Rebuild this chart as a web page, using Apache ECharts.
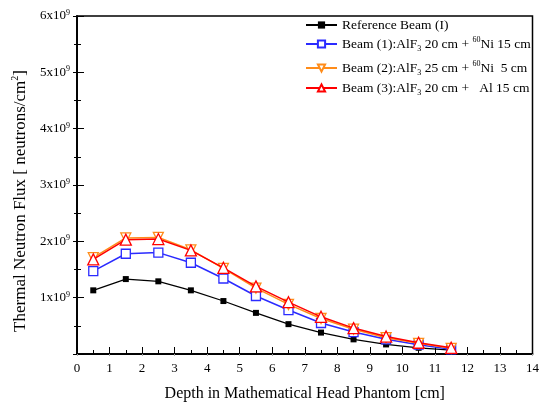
<!DOCTYPE html>
<html>
<head>
<meta charset="utf-8">
<script src="https://cdn.jsdelivr.net/npm/echarts@6/dist/echarts.min.js"></script>
<style>
  html, body { margin: 0; padding: 0; background: #fff; }
  #chart { width: 542px; height: 410px; }
</style>
</head>
<body>
<div id="chart"></div>
<script>
// depth in head phantom [cm]
const depth = [0.5, 1.5, 2.5, 3.5, 4.5, 5.5, 6.5, 7.5, 8.5, 9.5, 10.5, 11.5];

// thermal neutron flux, in units of 1e9 neutrons/cm^2
const refBeam = [1.13, 1.33, 1.29, 1.13, 0.94, 0.73, 0.53, 0.38, 0.26, 0.17, 0.11, 0.07];
const beam1   = [1.47, 1.78, 1.80, 1.62, 1.34, 1.03, 0.78, 0.55, 0.39, 0.26, 0.165, 0.083];
const beam2   = [1.71, 2.06, 2.07, 1.85, 1.52, 1.17, 0.88, 0.63, 0.44, 0.29, 0.19, 0.10];
const beam3   = [1.68, 2.03, 2.04, 1.84, 1.53, 1.20, 0.92, 0.66, 0.46, 0.31, 0.20, 0.11];

// legend labels (rich text: sub / sup)
const legendText = {
  ref: "Reference Beam (I)",
  b1: "Beam (1):AlF{sub|3} 20 cm + {sup|60}Ni 15 cm",
  b2: "Beam (2):AlF{sub|3} 25 cm + {sup|60}Ni  5 cm",
  b3: "Beam (3):AlF{sub|3} 20 cm +   Al 15 cm"
};

const FONT = "'Liberation Serif', 'Times New Roman', serif";
const chart = echarts.init(document.getElementById("chart"), null, { renderer: "canvas" });

const toPairs = (arr) => depth.map((d, i) => [d, arr[i] * 1e9]);

const RICH = {
  sub: { fontFamily: FONT, fontSize: 8, color: "#000", padding: [9, 0, 0, 0] },
  sup: { fontFamily: FONT, fontSize: 8, color: "#000", padding: [0, 0, 8, 0] }
};

function legendAt(name, top) {
  return {
    data: [name],
    left: 300,
    top: top,
    orient: "vertical",
    itemWidth: 31,
    itemHeight: 9,
    itemGap: 0,
    selectedMode: false,
    formatter: (n) => legendText[n],
    textStyle: { fontFamily: FONT, fontSize: 13.5, color: "#000", rich: RICH }
  };
}

const axisCommon = {
  axisLine: { show: true, lineStyle: { color: "#000", width: 1.5 } },
  splitLine: { show: false }
};

const option = {
  animation: false,
  backgroundColor: "#fff",
  grid: {
    left: 77, right: 8, top: 16, bottom: 56,
    containLabel: false,
    show: true,
    borderColor: "#000",
    borderWidth: 1.5,
    backgroundColor: "transparent"
  },

  legend: [
    legendAt("ref", 13),
    legendAt("b1", 31),
    legendAt("b2", 55),
    legendAt("b3", 76)
  ],

  xAxis: [
    {
      ...axisCommon,
      type: "value",
      min: 0,
      max: 14,
      interval: 1,
      position: "bottom",
      axisTick: { inside: true, length: 7, lineStyle: { color: "#000" } },
      minorTick: { show: true, splitNumber: 2, length: 4, lineStyle: { color: "#000" } },
      axisLabel: { margin: 8, fontFamily: FONT, fontSize: 13, color: "#000" },
      name: "Depth in Mathematical Head Phantom [cm]",
      nameLocation: "middle",
      nameGap: 32,
      nameTextStyle: { fontFamily: FONT, fontSize: 16, color: "#000" }
    },
    {
      ...axisCommon,
      type: "value",
      min: 0,
      max: 14,
      interval: 1,
      position: "top",
      axisTick: { inside: true, length: 2, lineStyle: { color: "#aaa" } },
      axisLabel: { show: false }
    }
  ],

  yAxis: [
    {
      ...axisCommon,
      type: "value",
      min: 0,
      max: 6e9,
      interval: 1e9,
      position: "left",
      axisTick: { inside: true, length: 7, lineStyle: { color: "#000" } },
      minorTick: { show: true, splitNumber: 2, length: 4, lineStyle: { color: "#000" } },
      axisLabel: {
        margin: 7,
        fontFamily: FONT,
        fontSize: 13,
        color: "#000",
        formatter: (v) => (v === 0 ? "" : "{n|" + Math.round(v / 1e9) + "x10}{s|9}"),
        rich: {
          n: { fontFamily: FONT, fontSize: 13, color: "#000" },
          s: { fontFamily: FONT, fontSize: 8, color: "#000", padding: [0, 0, 6, 0] }
        }
      },
      name: "Thermal Neutron Flux [ neutrons/cm{s|2}]",
      nameLocation: "middle",
      nameGap: 41,
      nameTextStyle: {
        fontFamily: FONT,
        fontSize: 17,
        color: "#000",
        padding: [0, 32, 0, 0],
        rich: { s: { fontFamily: FONT, fontSize: 10, color: "#000", padding: [0, 0, 10, 0] } }
      }
    },
    {
      ...axisCommon,
      type: "value",
      min: 0,
      max: 6e9,
      interval: 1e9,
      position: "right",
      axisTick: { inside: true, length: 4, lineStyle: { color: "#000" } },
      minorTick: { show: true, splitNumber: 2, length: 3, lineStyle: { color: "#000" } },
      axisLabel: { show: false }
    }
  ],

  series: [
    {
      name: "ref",
      type: "line",
      data: toPairs(refBeam),
      symbol: "rect",
      symbolSize: 6,
      lineStyle: { color: "#000", width: 1.2 },
      itemStyle: { color: "#000" },
      z: 2
    },
    {
      name: "b1",
      type: "line",
      data: toPairs(beam1),
      symbol: "rect",
      symbolSize: 9,
      lineStyle: { color: "#2b2bff", width: 1.5 },
      itemStyle: { color: "#fff", borderColor: "#2b2bff", borderWidth: 1.3 },
      z: 3
    },
    {
      name: "b2",
      type: "line",
      data: toPairs(beam2),
      symbol: "triangle",
      symbolRotate: 180,
      symbolSize: 10,
      lineStyle: { color: "#ff8c1a", width: 1.5 },
      itemStyle: { color: "#fff", borderColor: "#ff8c1a", borderWidth: 1.3 },
      z: 4
    },
    {
      name: "b3",
      type: "line",
      data: toPairs(beam3),
      symbol: "triangle",
      symbolSize: 11,
      lineStyle: { color: "#ff0000", width: 1.5 },
      itemStyle: { color: "#fff", borderColor: "#ff0000", borderWidth: 1.3 },
      z: 5
    }
  ]
};

chart.setOption(option);
</script>
</body>
</html>
